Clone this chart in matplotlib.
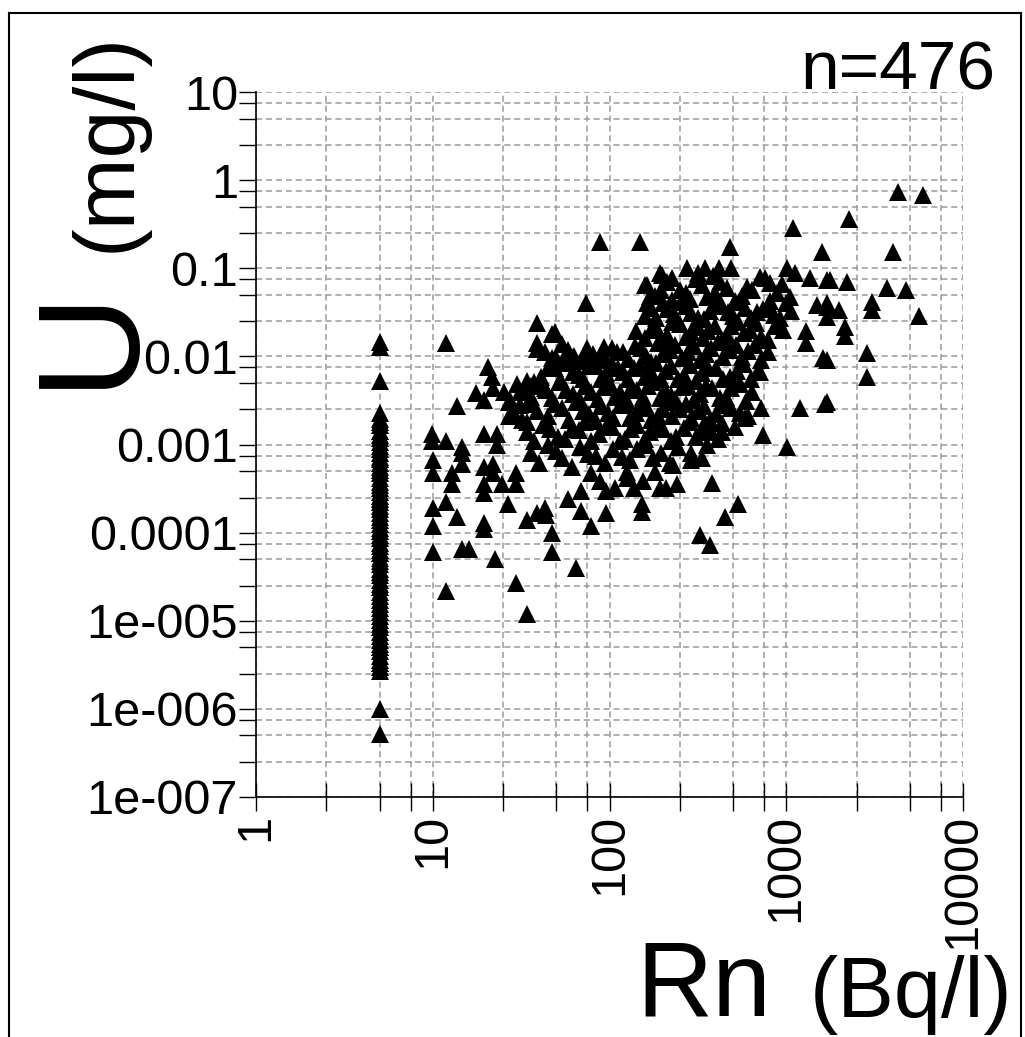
import matplotlib
matplotlib.use("Agg")
import matplotlib.pyplot as plt
from matplotlib.ticker import FixedLocator, NullFormatter
from matplotlib.lines import Line2D

# --- data (Rn in Bq/l, U in mg/l) ---
# samples with Rn below detection, all drawn at Rn = 5
rn_col = 5.0
u_col = [0.0145, 0.0128, 0.0053, 0.00226, 0.00196, 0.00178, 0.00165, 0.00142,
         0.00128, 0.00119, 0.00107, 0.00097, 0.00089, 0.00081, 0.00073, 0.00068,
         0.00061, 0.00056, 0.00051, 0.00047, 0.00042, 0.00038, 0.00035, 0.00032,
         0.00029, 0.00026, 0.00024, 0.00022, 0.00020, 0.000184, 0.000166, 0.000150,
         0.000138, 0.000125, 0.000113, 0.000104, 9.4e-5, 8.6e-5, 7.7e-5, 7.1e-5,
         6.4e-5, 5.8e-5, 5.2e-5, 4.8e-5, 4.4e-5, 3.9e-5, 3.6e-5, 3.3e-5, 2.9e-5,
         2.6e-5, 2.4e-5, 2.1e-5, 1.9e-5, 1.74e-5, 1.56e-5, 1.41e-5, 1.27e-5,
         1.14e-5, 1.03e-5, 9.3e-6, 8.4e-6, 7.5e-6, 6.8e-6, 6.1e-6, 5.5e-6, 5.0e-6,
         4.5e-6, 4.0e-6, 3.6e-6, 3.3e-6, 3.0e-6, 2.7e-6, 1.0e-6, 5.2e-7]

# scattered points, low Rn side
rn_left = [11.9, 39, 47.5, 39, 39, 48, 20.6, 21.5, 21.8, 17.6, 19.5, 13.8, 9.9, 9.9,
           11.9, 14.7, 14.7, 14.7, 19.5, 23, 23, 10, 10, 12.9, 12.9, 19.5, 22, 19.5,
           19.5, 21.8, 24.5, 29.5, 29.5, 10, 11.9, 13.8, 26.5, 10, 19.5, 19.5, 34, 39,
           43, 44, 47.5, 10, 14.7, 16.1, 22.6, 47.5, 11.9, 29.5, 34, 65, 27, 27, 31,
           31, 34, 36, 44]
u_left = [0.0141, 0.0237, 0.018, 0.014, 0.012, 0.0085, 0.0075, 0.0058, 0.0044, 0.0038,
          0.0032, 0.0027, 0.00133, 0.0011, 0.0011, 0.00094, 0.0008, 0.0006, 0.0013,
          0.0013, 0.001, 0.00067, 0.00047, 0.00047, 0.00036, 0.00055, 0.0006, 0.00036,
          0.00028, 0.00047, 0.00036, 0.00047, 0.00036, 0.00019, 0.00022, 0.00015,
          0.00021, 0.00012, 0.00013, 0.00011, 0.00014, 0.000165, 0.00019, 0.00016,
          0.000098, 6e-5, 6.5e-5, 6.5e-5, 5e-5, 6e-5, 2.2e-5, 2.7e-5, 1.2e-5, 4e-5,
          0.003, 0.0021, 0.0039, 0.0028, 0.0018, 0.0046, 0.0041]

# scattered points below the main cloud
rn_low = [58.5, 69, 69, 79, 95, 96, 107, 88, 79, 125, 125, 154, 138, 152, 152, 180,
          192, 210, 228, 240, 290, 290, 325, 378, 530, 450, 368, 335]
u_low = [0.00024, 0.0003, 0.000175, 0.00012, 0.000165, 0.0003, 0.00032, 0.00039,
         0.00047, 0.00049, 0.00042, 0.00039, 0.00032, 0.00021, 0.00017, 0.00049,
         0.00032, 0.00032, 0.00058, 0.00036, 0.00081, 0.00067, 9.3e-5, 0.00037,
         0.00021, 0.00015, 7.3e-5, 0.0007]

# scattered points, high Rn side
rn_right = [1195, 1652, 1007, 736, 588, 720, 345, 345, 435, 435, 355, 1089, 1585, 478,
            707, 805, 1007, 1122, 1355, 1690, 1490, 1690, 1300, 1300, 1620, 707, 540,
            4270, 5940, 2260, 4040, 1770, 2200, 3700, 4780, 3070, 3070, 5620, 1690,
            1690, 1990, 2140, 2140, 2860, 1690, 2860, 1690]
u_right = [0.0026, 0.0029, 0.00093, 0.00127, 0.002, 0.0026, 0.0018, 0.0014, 0.00176,
           0.0014, 0.001, 0.285, 0.152, 0.174, 0.08, 0.068, 0.1, 0.088, 0.078, 0.074,
           0.038, 0.036, 0.0195, 0.014, 0.0097, 0.0066, 0.0049, 0.73, 0.68, 0.36,
           0.152, 0.074, 0.07, 0.059, 0.057, 0.041, 0.034, 0.029, 0.04, 0.028, 0.034,
           0.0215, 0.017, 0.011, 0.0091, 0.0058, 0.003]

# scattered points above the cloud
rn_top = [88, 149, 74, 49, 93, 197, 162, 163, 142, 276, 346, 419, 490, 192, 226, 315,
          383, 50, 57, 62, 75]
u_top = [0.197, 0.197, 0.04, 0.019, 0.0127, 0.084, 0.064, 0.04, 0.0196, 0.1, 0.1, 0.1,
         0.1, 0.088, 0.077, 0.088, 0.081, 0.0095, 0.0105, 0.0098, 0.0098]

# the dense cloud, read band by band (two passes per band)
rn_b = [158, 180, 212, 249, 284, 332, 394, 463, 563, 641, 806, 950, 1047,
        169, 196, 226, 270, 310, 357, 420, 511, 601, 755, 890]
u_b = [0.064, 0.049, 0.070, 0.056, 0.045, 0.064, 0.052, 0.059, 0.048, 0.056, 0.043,
       0.066, 0.047,
       0.048, 0.056, 0.044, 0.052, 0.075, 0.047, 0.070, 0.043, 0.062, 0.077, 0.053]
rn_c = [158, 172, 200, 233, 272, 316, 369, 428, 497, 582, 680, 785, 918, 1070,
        183, 212, 253, 290, 341, 400, 471, 537, 632, 740, 850, 995]
u_c = [0.029, 0.035, 0.040, 0.030, 0.037, 0.0271, 0.033, 0.039, 0.0284, 0.035, 0.0316,
       0.038, 0.0271, 0.033,
       0.0271, 0.0341, 0.041, 0.031, 0.0265, 0.037, 0.0316, 0.041, 0.0271, 0.0341,
       0.0292, 0.040]
rn_d = [158, 186, 212, 249, 290, 338, 394, 463, 530, 621, 724, 861,
        172, 200, 226, 270, 316, 363, 434, 489, 573, 672, 785, 962]
u_d = [0.0161, 0.0207, 0.0173, 0.0231, 0.0187, 0.0161, 0.0219, 0.0177, 0.0243, 0.0197,
       0.0165, 0.0219,
       0.0197, 0.0146, 0.0243, 0.0165, 0.0213, 0.0192, 0.0152, 0.0219, 0.0183, 0.0237,
       0.0152, 0.0197]
rn_e = [43, 54, 63, 75, 88, 103, 119, 139, 161, 187, 219, 256, 300, 352, 410, 479, 563,
        663, 785,
        47, 58, 69, 81, 95, 110, 128, 150, 172, 202, 236, 278, 324, 375, 441, 519,
        611, 716]
u_e = [0.0111, 0.0138, 0.0100, 0.0124, 0.0095, 0.0124, 0.0111, 0.0130, 0.0100, 0.0142,
       0.0117, 0.0095, 0.0130, 0.0106, 0.0146, 0.0117, 0.0098, 0.0133, 0.0111,
       0.0095, 0.0117, 0.0088, 0.0106, 0.0090, 0.0111, 0.0093, 0.0124, 0.0086, 0.0106,
       0.0133, 0.0111, 0.0090, 0.0124, 0.0098, 0.0133, 0.0114, 0.0090]
rn_f = [34, 41, 49, 57, 67, 77, 89, 103, 119, 137, 158, 183, 210, 244, 284, 332, 400,
        479, 573, 693,
        37.6, 45, 53, 62, 71, 84, 96, 111, 128, 148, 172, 196, 222, 263, 307, 363, 438,
        524, 632]
u_f = [0.0053, 0.0059, 0.0073, 0.0085, 0.0062, 0.0077, 0.0056, 0.0081, 0.0066, 0.0073,
       0.0059, 0.0085, 0.0069, 0.0056, 0.0079, 0.0064, 0.0073, 0.0059, 0.0081, 0.0068,
       0.0051, 0.0073, 0.0053, 0.0066, 0.0055, 0.0077, 0.0064, 0.0073, 0.0055, 0.0079,
       0.0066, 0.0056, 0.0077, 0.0062, 0.0053, 0.0073, 0.0056, 0.0069, 0.0056]
rn_g = [25.4, 30, 36, 43, 52, 62, 73, 86, 100, 115, 133, 154, 177, 205, 236, 278, 324,
        381, 455, 545, 641,
        27.5, 33, 39.5, 47.5, 57, 68, 79, 93, 107, 125, 144, 166, 192, 222, 256, 300,
        352, 420, 489, 592]
u_g = [0.0039, 0.0049, 0.0035, 0.0044, 0.0051, 0.0037, 0.0046, 0.0033, 0.0049, 0.0039,
       0.0044, 0.0035, 0.0051, 0.0041, 0.0033, 0.0046, 0.0037, 0.0044, 0.0035, 0.0049,
       0.0039,
       0.0032, 0.0041, 0.0046, 0.0034, 0.0041, 0.0032, 0.0039, 0.0045, 0.0035, 0.0031,
       0.0041, 0.0046, 0.0034, 0.0036, 0.0045, 0.0032, 0.0046, 0.0034, 0.0044, 0.0031]
rn_h = [29, 35, 45, 54, 65, 77, 90, 105, 122, 141, 163, 187, 216, 249, 290, 341, 400,
        489, 611,
        32, 39, 49, 59, 71, 84, 98, 114, 130, 150, 172, 200, 226, 270, 316, 369, 441,
        545]
u_h = [0.0023, 0.0029, 0.0021, 0.0026, 0.0030, 0.0022, 0.0027, 0.0020, 0.0029, 0.0023,
       0.0026, 0.0021, 0.0030, 0.0025, 0.0020, 0.0027, 0.0022, 0.0026, 0.0021,
       0.0019, 0.0024, 0.0029, 0.0019, 0.0024, 0.00185, 0.0023, 0.0028, 0.0020,
       0.0027, 0.0019, 0.0025, 0.0021, 0.0029, 0.0024, 0.0019, 0.0028, 0.0023]
rn_i = [34, 42, 51, 61, 73, 87, 103, 122, 144, 170, 202, 239, 284, 335, 410, 511,
        37.6, 46, 56, 67, 79, 95, 114, 133, 158, 187, 222, 263, 310, 375]
u_i = [0.00137, 0.00167, 0.00123, 0.00151, 0.00178, 0.00131, 0.00159, 0.00116, 0.00167,
       0.00137, 0.00151, 0.00123, 0.00178, 0.00145, 0.00116, 0.00159,
       0.00111, 0.00151, 0.00116, 0.00145, 0.00109, 0.00159, 0.00111, 0.00151,
       0.00114, 0.00148, 0.00111, 0.00155, 0.00123, 0.00141]
rn_j = [36, 45, 54, 68, 84, 105, 130, 161, 196, 244,
        40, 50, 61, 76, 94, 117, 144, 177, 219]
u_j = [0.00081, 0.00099, 0.00070, 0.00094, 0.00075, 0.00089, 0.00066, 0.00099, 0.00081,
       0.00094,
       0.00062, 0.00085, 0.00055, 0.00078, 0.00062, 0.00073, 0.00089, 0.00070, 0.00062]

x_major = [1, 10, 100, 1000, 10000]
x_labels = ["1", "10", "100", "1000", "10000"]
y_major = [1e-7, 1e-6, 1e-5, 1e-4, 1e-3, 1e-2, 1e-1, 1, 10]
y_labels = ["1e-007", "1e-006", "1e-005", "0.0001", "0.001", "0.01", "0.1", "1", "10"]
minor_steps = [2.5, 5, 7.5]

plt.rcParams["font.family"] = ["Liberation Sans", "DejaVu Sans"]

W, H = 1025, 1037
fig = plt.figure(figsize=(W / 100, H / 100), dpi=100)
ax = fig.add_axes([256 / W, 1 - 797 / H, (963 - 256) / W, (797 - 92) / H])

groups = [([rn_col] * len(u_col), u_col), (rn_left, u_left), (rn_low, u_low),
          (rn_right, u_right), (rn_top, u_top), (rn_b, u_b), (rn_c, u_c), (rn_d, u_d),
          (rn_e, u_e), (rn_f, u_f), (rn_g, u_g), (rn_h, u_h), (rn_i, u_i), (rn_j, u_j)]
for xs, ys in groups:
    ax.plot(xs, ys, linestyle="none", marker="^", markersize=12.5, color="black",
            markeredgewidth=0, zorder=3)

ax.set_xscale("log")
ax.set_yscale("log")
ax.set_xlim(1, 10000)
ax.set_ylim(1e-7, 10)

x_minor = [s * 10**k for k in range(0, 4) for s in minor_steps]
y_minor = [s * 10.0**k for k in range(-7, 1) for s in minor_steps]
ax.xaxis.set_major_locator(FixedLocator(x_major))
ax.xaxis.set_minor_locator(FixedLocator(x_minor))
ax.yaxis.set_major_locator(FixedLocator(y_major))
ax.yaxis.set_minor_locator(FixedLocator(y_minor))
ax.xaxis.set_minor_formatter(NullFormatter())
ax.yaxis.set_minor_formatter(NullFormatter())
ax.set_xticklabels(x_labels, rotation=90, fontsize=35)
ax.set_yticklabels(y_labels, fontsize=35)

ax.grid(True, which="both", color="#9a9a9a", linestyle=(0, (4, 2.5)), linewidth=1.1)
ax.tick_params(axis="y", which="both", direction="out", length=12, width=1, pad=1)
ax.tick_params(axis="x", which="both", direction="inout", length=20, width=1, pad=2)
for side in ["top", "right"]:
    ax.spines[side].set_visible(False)
for side in ["left", "bottom"]:
    ax.spines[side].set_linewidth(1.2)

# axis titles
fig.text(129 / W, 1 - 388 / H, "U", rotation=90, rotation_mode="anchor",
         ha="left", va="baseline", fontsize=104)
fig.text(130 / W, 1 - 252 / H, "(mg/l)", rotation=90, rotation_mode="anchor",
         ha="left", va="baseline", fontsize=62)
fig.text(636 / W, 1 - 1015 / H, "Rn", ha="left", va="baseline", fontsize=76)
fig.text(1012 / W, 1 - 1017 / H, "(Bq/l)", ha="right", va="baseline", fontsize=61)
fig.text(995 / W, 1 - 90 / H, "n=476", ha="right", va="baseline", fontsize=50)

# frame round the picture
for xs, ys in [([9, 9], [13, H]), ([9, 1021], [13, 13]), ([1021, 1021], [13, H])]:
    fig.add_artist(Line2D([x / W for x in xs], [1 - y / H for y in ys],
                          color="black", linewidth=1.5))

fig.savefig("out.png", dpi=100, facecolor="white")
